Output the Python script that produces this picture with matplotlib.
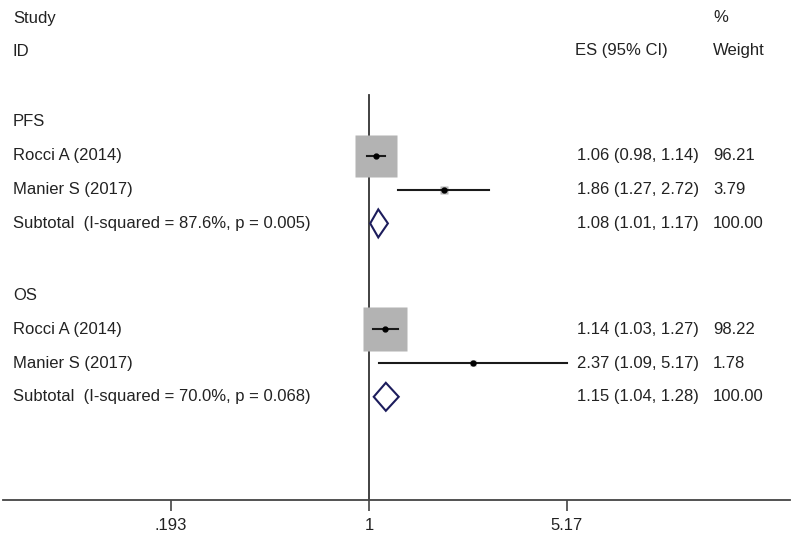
import numpy as np
import matplotlib.pyplot as plt
from matplotlib.patches import Polygon
from matplotlib.transforms import blended_transform_factory

# data
groups = ['PFS', 'OS']
studies = ['Rocci A (2014)', 'Manier S (2017)']
es = [[1.06, 1.86], [1.14, 2.37]]
ci_lo = [[0.98, 1.27], [1.03, 1.09]]
ci_hi = [[1.14, 2.72], [1.27, 5.17]]
weights = [[96.21, 3.79], [98.22, 1.78]]
sub_es = [1.08, 1.15]
sub_lo = [1.01, 1.04]
sub_hi = [1.17, 1.28]
sub_label = ['Subtotal  (I-squared = 87.6%, p = 0.005)',
             'Subtotal  (I-squared = 70.0%, p = 0.068)']
xticks = [0.193, 1, 5.17]
xtick_labels = ['.193', '1', '5.17']


def main():
    plt.rcParams['font.family'] = ['Liberation Sans', 'DejaVu Sans']
    txt_col = '#222222'
    fs = 12

    fig = plt.figure(figsize=(8, 5.37), dpi=100)
    # axes runs from the top of the figure down to the x axis line
    ax = fig.add_axes([3 / 800, 37 / 537, 787 / 800, 500 / 537])
    ax.set_xscale('log')
    px = 120.4  # pixels per ln unit
    ax.set_xlim(np.exp((3 - 369) / px), np.exp((790 - 369) / px))
    ax.set_ylim(500, 0)  # y in pixel rows from the top

    for s in ['top', 'left', 'right']:
        ax.spines[s].set_visible(False)
    ax.spines['bottom'].set_color('#444444')
    ax.spines['bottom'].set_linewidth(1.3)
    ax.set_yticks([])
    ax.set_xticks(xticks)
    ax.set_xticklabels(xtick_labels, fontsize=fs, color=txt_col)
    ax.minorticks_off()
    ax.tick_params(axis='x', length=8, width=1.2, color='#444444', pad=5)

    # null line
    ax.plot([1, 1], [95, 500], color='#333333', lw=1.3, zorder=1)

    tr = blended_transform_factory(fig.transFigure, ax.transData)
    x_lab = 13 / 800
    x_es = 577 / 800
    x_w = 713 / 800

    def put(x, y, s):
        ax.text(x, y, s, transform=tr, fontsize=fs, color=txt_col, va='center')

    put(x_lab, 18, 'Study')
    put(x_lab, 52, 'ID')
    put(575 / 800, 51, 'ES (95% CI)')
    put(x_w, 18, '%')
    put(x_w, 51, 'Weight')

    step = 33.8
    y = 122
    for g in range(len(groups)):
        put(x_lab, y, groups[g])
        y += step
        for i in range(len(studies)):
            w = weights[g][i]
            ax.plot([ci_lo[g][i], ci_hi[g][i]], [y, y], color='#1a1a1a', lw=1.5, zorder=3)
            ax.plot(es[g][i], y, marker='s', ms=3.15 * np.sqrt(w), color='#b3b3b3',
                    mec='none', zorder=2)
            ax.plot(es[g][i], y, marker='o', ms=3.5, color='black', zorder=4)
            put(x_lab, y, studies[i])
            put(x_es, y, '%.2f (%.2f, %.2f)' % (es[g][i], ci_lo[g][i], ci_hi[g][i]))
            put(x_w, y, '%.2f' % w)
            y += step
        h = 14
        diamond = Polygon([[sub_lo[g], y], [sub_es[g], y - h], [sub_hi[g], y],
                           [sub_es[g], y + h]], closed=True, fill=False,
                          edgecolor='#1c1c5c', lw=1.5, zorder=3)
        ax.add_patch(diamond)
        put(x_lab, y, sub_label[g])
        put(x_es, y, '%.2f (%.2f, %.2f)' % (sub_es[g], sub_lo[g], sub_hi[g]))
        put(x_w, y, '100.00')
        y += 72

    fig.savefig('out.png', dpi=100)


if __name__ == '__main__':
    main()
